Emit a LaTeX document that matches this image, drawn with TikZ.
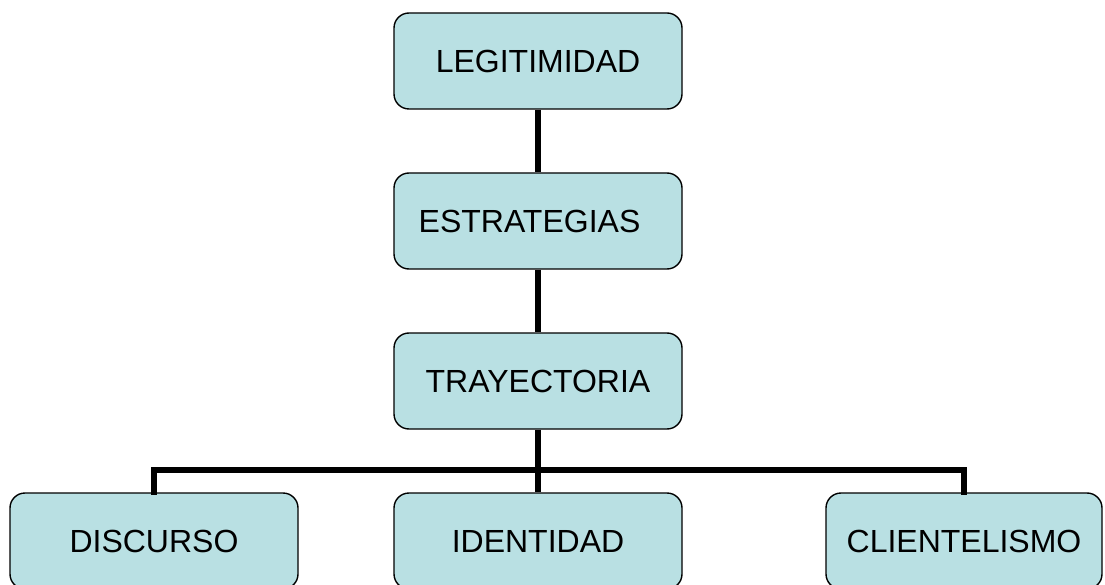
\documentclass[tikz,border=0pt]{standalone}
\usepackage{fontspec}
\setmainfont{Liberation Sans}
\definecolor{caja}{RGB}{185,224,227}

\begin{document}
\begin{tikzpicture}[x=1pt,y=-1pt,
    bloque/.style={draw=black,line width=1.4pt,fill=caja,rounded corners=15pt,
        minimum width=288pt,minimum height=96pt,inner sep=0pt,
        font=\fontsize{32}{38}\selectfont},
    enlace/.style={line width=6pt}]
    \clip(0,0)rectangle(1105,585);
    \useasboundingbox(0,0)rectangle(1105,585);

    \node[bloque](legit)at(538,61){\raisebox{-3pt}{LEGITIMIDAD}};
    \node[bloque](estrat)at(538,221){\raisebox{-3pt}{ESTRATEGIAS}\kern17pt};
    \node[bloque](trayec)at(538,381){\raisebox{-3pt}{TRAYECTORIA}};

    \node[bloque](discur)at(154,541){\raisebox{-3pt}{DISCURSO}};
    \node[bloque](ident)at(538,541){\raisebox{-3pt}{IDENTIDAD}};
    \node[bloque,minimum width=276pt](client)at(964,541){\raisebox{-3pt}{CLIENTELISMO}};

    \draw[enlace](legit)--(estrat);
    \draw[enlace](estrat)--(trayec);
    \draw[enlace](trayec)--(ident);
    \draw[enlace,line cap=rect](discur.north)|-(538,470)-|(client.north);
\end{tikzpicture}
\end{document}
